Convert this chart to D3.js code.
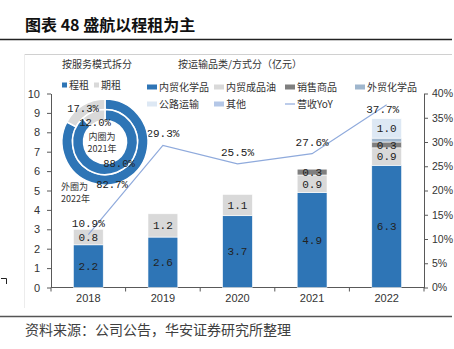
<!DOCTYPE html>
<html>
<head>
<meta charset="utf-8">
<script src="https://cdn.jsdelivr.net/npm/d3@7"></script>
<style>
  body { margin: 0; background: #fff; }
  svg { display: block; }
  .cjk { font-family: "Noto Sans CJK SC", sans-serif; }
  .num { font-family: "Liberation Mono", "DejaVu Sans Mono", monospace; }
  .axis text { font-family: "Liberation Sans", Arial, sans-serif; font-size: 11px; fill: #333; }
  .axis path, .axis line { stroke: #595959; }
</style>
</head>
<body>
<div id="chart"></div>
<script>
// data
var years = ["2018", "2019", "2020", "2021", "2022"];
var chemDomestic = [2.2, 2.6, 3.7, 4.9, 6.3];   // 内贸化学品
var oilDomestic = [0.8, 1.2, 1.1, 0.9, 0.9];    // 内贸成品油
var salesGoods = [0, 0, 0, 0.3, 0.3];           // 销售商品
var chemForeign = [0, 0, 0, 0, 0.2];            // 外贸化学品
var roadTransport = [0, 0, 0, 0, 1.0];          // 公路运输
var otherBiz = [0, 0, 0, 0, 0];                 // 其他
var revenueYoY = [10.9, 29.3, 25.5, 27.6, 37.7]; // 营收YoY (%)

var leftTicks = [0, 1, 2, 3, 4, 5, 6, 7, 8, 9, 10];
var rightTicks = [0, 5, 10, 15, 20, 25, 30, 35, 40];

// donut: 程租 / 期租
var donutNames = ["程租", "期租"];
var outer2022 = [82.7, 17.3];
var inner2021 = [88.0, 12.0];

var seriesNames = ["内贸化学品", "内贸成品油", "销售商品", "外贸化学品", "公路运输", "其他"];
var seriesColors = ["#2e75b6", "#d9d9d9", "#7f7f7f", "#9fb6cd", "#dde8f4", "#b4c7e7"];
var seriesValues = [chemDomestic, oilDomestic, salesGoods, chemForeign, roadTransport, otherBiz];
var showLabel = [true, true, true, false, true, false];
var donutColors = ["#2e75b6", "#d9d9d9"];

var W = 454, H = 349;
var svg = d3.select("#chart").append("svg").attr("width", W).attr("height", H);

// title + frame lines
svg.append("text").attr("class", "cjk")
    .attr("x", 25).attr("y", 31)
    .style("font-size", "16px").style("font-weight", "bold").style("fill", "#111")
    .text("图表 48 盛航以程租为主");
svg.append("line").attr("x1", 0).attr("x2", 452).attr("y1", 39.5).attr("y2", 39.5)
    .style("stroke", "#222").style("stroke-width", 1.6);
svg.append("line").attr("x1", 24).attr("x2", 452).attr("y1", 54.5).attr("y2", 54.5)
    .style("stroke", "#d0d0d0").style("stroke-width", 1);
svg.append("line").attr("x1", 24.5).attr("x2", 24.5).attr("y1", 54).attr("y2", 308)
    .style("stroke", "#ececec").style("stroke-width", 1);
svg.append("line").attr("x1", 0).attr("x2", 452).attr("y1", 316.5).attr("y2", 316.5)
    .style("stroke", "#555").style("stroke-width", 1.4);
svg.append("path").attr("d", "M1,278.5H6.5V284")
    .style("fill", "none").style("stroke", "#222").style("stroke-width", 1);

svg.append("text").attr("class", "cjk")
    .attr("x", 25).attr("y", 335)
    .style("font-size", "14px").style("fill", "#404040")
    .text("资料来源：公司公告，华安证券研究所整理");

// sub headers
svg.append("text").attr("class", "cjk").attr("x", 62).attr("y", 68)
    .style("font-size", "10px").style("fill", "#333").text("按服务模式拆分");
svg.append("text").attr("class", "cjk").attr("x", 178).attr("y", 68)
    .style("font-size", "10px").style("fill", "#333").text("按运输品类/方式分（亿元）");

// scales
var x = d3.scaleBand().domain(years).range([51, 424]).paddingInner(0.6).paddingOuter(0.3);
var y = d3.scaleLinear().domain([0, 10]).range([287.5, 93.5]);
var y2 = d3.scaleLinear().domain([0, 40]).range([287.5, 93.5]);

// axes
svg.append("g").attr("class", "axis")
    .attr("transform", "translate(51,0)")
    .call(d3.axisLeft(y).tickValues(leftTicks).tickSize(4).tickPadding(7).tickSizeOuter(0));
svg.append("g").attr("class", "axis")
    .attr("transform", "translate(424,0)")
    .call(d3.axisRight(y2).tickValues(rightTicks).tickSize(4).tickPadding(4).tickSizeOuter(0)
        .tickFormat(function(d){ return d + "%"; }))
    .selectAll("text").style("font-size", "10.5px");

var xAxis = svg.append("g").attr("class", "axis")
    .attr("transform", "translate(0,287.5)")
    .call(d3.axisBottom(x).tickSize(0).tickPadding(7).tickSizeOuter(0));
xAxis.select(".domain").attr("d", "M51,0H424");
xAxis.selectAll(".sep").data(d3.range(years.length + 1)).enter().append("line")
    .attr("x1", function(i){ return 51 + i * x.step(); })
    .attr("x2", function(i){ return 51 + i * x.step(); })
    .attr("y1", 0).attr("y2", 4)
    .style("stroke", "#595959");

// stacked bars
var rows = years.map(function(yr, i){
    var r = { year: yr };
    seriesNames.forEach(function(s, k){ r[s] = seriesValues[k][i]; });
    return r;
});
var stacked = d3.stack().keys(seriesNames)(rows);

var layers = svg.selectAll(".layer").data(stacked).enter().append("g")
    .attr("class", "layer")
    .style("fill", function(d, k){ return seriesColors[k]; });

layers.selectAll("rect").data(function(d){ return d; }).enter().append("rect")
    .filter(function(d){ return d[1] - d[0] > 0; })
    .attr("x", function(d){ return x(d.data.year); })
    .attr("width", x.bandwidth())
    .attr("y", function(d){ return y(d[1]); })
    .attr("height", function(d){ return y(d[0]) - y(d[1]); })
    .style("stroke", "#fff").style("stroke-width", 0.6);

stacked.forEach(function(layer, k){
    if (!showLabel[k]) return;
    layer.forEach(function(d){
        var v = d[1] - d[0];
        if (v <= 0) return;
        svg.append("text").attr("class", "num")
            .attr("x", x(d.data.year) + x.bandwidth() / 2)
            .attr("y", y((d[0] + d[1]) / 2))
            .attr("dy", "0.35em")
            .attr("text-anchor", "middle")
            .style("font-size", "11px").style("fill", "#222")
            .text(v.toFixed(1));
    });
});

// YoY line
var line = d3.line()
    .x(function(d, i){ return x(years[i]) + x.bandwidth() / 2; })
    .y(function(d){ return y2(d); });
svg.append("path").datum(revenueYoY)
    .attr("d", line)
    .style("fill", "none").style("stroke", "#8faadc").style("stroke-width", 1.2);

svg.selectAll(".yoy").data(revenueYoY).enter().append("text")
    .attr("class", "num")
    .attr("x", function(d, i){ return x(years[i]) + x.bandwidth() / 2 + (i === years.length - 1 ? -4 : 0); })
    .attr("y", function(d, i){ return y2(d) + (i === years.length - 1 ? 8 : -8); })
    .attr("text-anchor", "middle")
    .style("font-size", "11px").style("fill", "#222")
    .text(function(d){ return d.toFixed(1) + "%"; });

// legend
var legendPos = [[147, 87], [214, 87], [285, 87], [355, 87], [147, 104], [214, 104]];
seriesNames.forEach(function(s, k){
    var p = legendPos[k];
    svg.append("rect").attr("x", p[0]).attr("y", p[1] - 2.5).attr("width", 10).attr("height", 5)
        .style("fill", seriesColors[k]);
    svg.append("text").attr("class", "cjk").attr("x", p[0] + 12).attr("y", p[1]).attr("dy", "0.35em")
        .style("font-size", "10px").style("fill", "#333").text(s);
});
svg.append("line").attr("x1", 285).attr("x2", 295).attr("y1", 104).attr("y2", 104)
    .style("stroke", "#8faadc").style("stroke-width", 1.2);
svg.append("text").attr("class", "cjk").attr("x", 297).attr("y", 104).attr("dy", "0.35em")
    .style("font-size", "10px").style("fill", "#333").text("营收YoY");

// donut
var cx = 105, cy = 142;
var donut = svg.append("g").attr("transform", "translate(" + cx + "," + cy + ")");
var pie = d3.pie().sort(null);
var outerArc = d3.arc().innerRadius(32.5).outerRadius(43);
var innerArc = d3.arc().innerRadius(21.5).outerRadius(32.5);

donut.selectAll(".outer").data(pie(outer2022)).enter().append("path")
    .attr("d", outerArc)
    .style("fill", function(d, i){ return donutColors[i]; })
    .style("stroke", "#fff").style("stroke-width", 1.5);
donut.selectAll(".inner").data(pie(inner2021)).enter().append("path")
    .attr("d", innerArc)
    .style("fill", function(d, i){ return donutColors[i]; })
    .style("stroke", "#fff").style("stroke-width", 1.5);

// donut labels
var outerLabelOff = [[7, 42], [-22, -34]];
var innerLabelOff = [[14, 21], [-10, -20]];
outer2022.forEach(function(v, i){
    donut.append("text").attr("class", "num")
        .attr("x", outerLabelOff[i][0]).attr("y", outerLabelOff[i][1]).attr("dy", "0.35em")
        .attr("text-anchor", "middle").style("font-size", "10.5px").style("fill", "#222")
        .text(v.toFixed(1) + "%");
});
inner2021.forEach(function(v, i){
    donut.append("text").attr("class", "num")
        .attr("x", innerLabelOff[i][0]).attr("y", innerLabelOff[i][1]).attr("dy", "0.35em")
        .attr("text-anchor", "middle").style("font-size", "10.5px").style("fill", "#222")
        .text(v.toFixed(1) + "%");
});
donut.append("text").attr("class", "cjk").attr("x", -3).attr("y", -5).attr("dy", "0.35em")
    .attr("text-anchor", "middle").style("font-size", "9px").style("fill", "#333").text("内圈为");
donut.append("text").attr("class", "cjk").attr("x", -3).attr("y", 7).attr("dy", "0.35em")
    .attr("text-anchor", "middle").style("font-size", "9px").style("fill", "#333").text("2021年");
svg.append("text").attr("class", "cjk").attr("x", 61).attr("y", 187).attr("dy", "0.35em")
    .style("font-size", "9px").style("fill", "#333").text("外圈为");
svg.append("text").attr("class", "cjk").attr("x", 61).attr("y", 199).attr("dy", "0.35em")
    .style("font-size", "9px").style("fill", "#333").text("2022年");

// donut legend
var donutLegendX = [62, 94];
donutNames.forEach(function(n, i){
    svg.append("rect").attr("x", donutLegendX[i]).attr("y", 82.5).attr("width", 5).attr("height", 5)
        .style("fill", donutColors[i]);
    svg.append("text").attr("class", "cjk").attr("x", donutLegendX[i] + 7).attr("y", 85).attr("dy", "0.35em")
        .style("font-size", "10px").style("fill", "#333").text(n);
});
</script>
</body>
</html>
